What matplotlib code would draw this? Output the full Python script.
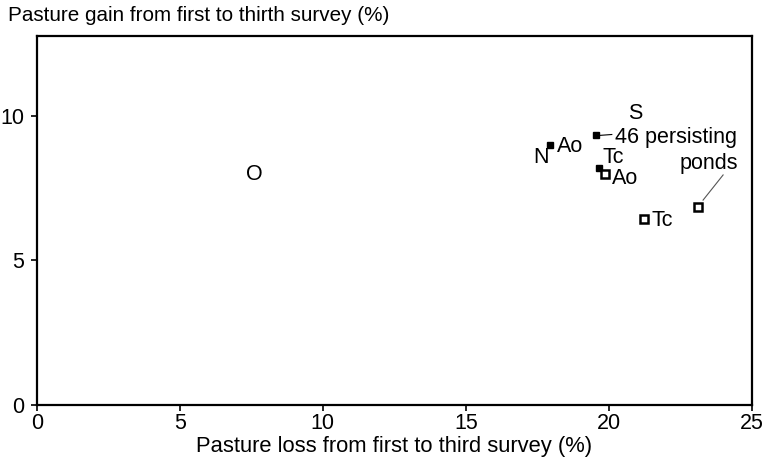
import matplotlib
matplotlib.use("Agg")
import matplotlib.pyplot as plt

plt.rcParams['font.family'] = ['Liberation Sans', 'DejaVu Sans']

# filled squares (first survey group)
filled_x = [17.95, 19.55, 19.65]
filled_y = [9.0, 9.33, 8.2]
# open squares
open_x = [19.86, 21.22, 23.11]
open_y = [7.99, 6.44, 6.85]

xticks = [0, 5, 10, 15, 20, 25]
yticks = [0, 5, 10]

fig = plt.figure(figsize=(7.65, 4.61), dpi=100)
ax = fig.add_axes([0.048, 0.1215, 0.935, 0.8005])

ax.plot(filled_x, filled_y, 's', color='black', markersize=4, linestyle='none')
ax.plot(open_x, open_y, 's', markerfacecolor='white', markeredgecolor='black',
        markeredgewidth=1.8, markersize=6, linestyle='none')

fs = 15.5
ax.text(18.18, 8.93, 'Ao', fontsize=fs, va='center', ha='left')
ax.text(17.62, 8.58, 'N', fontsize=fs, va='center', ha='center')
ax.text(19.76, 8.55, 'Tc', fontsize=fs, va='center', ha='left')
ax.text(20.1, 7.85, 'Ao', fontsize=fs, va='center', ha='left')
ax.text(21.5, 6.40, 'Tc', fontsize=fs, va='center', ha='left')
ax.text(20.91, 10.10, 'S', fontsize=fs, va='center', ha='center')
ax.text(20.21, 9.24, '46 persisting', fontsize=fs, va='center', ha='left')
ax.text(24.51, 8.37, 'ponds', fontsize=fs, va='center', ha='right')
ax.text(7.59, 7.99, 'O', fontsize=fs, va='center', ha='center')

# connector lines
ax.plot([19.69, 20.1], [9.33, 9.36], color='black', lw=0.8)
ax.plot([23.29, 23.99], [7.09, 7.96], color='#555555', lw=0.8)

ax.set_xlim(0, 25)
ax.set_ylim(0, 12.77)
ax.set_xticks(xticks)
ax.set_yticks(yticks)
ax.tick_params(direction='out', length=4, width=1.2, labelsize=fs)
ax.tick_params(axis='x', pad=2)
ax.tick_params(axis='y', pad=5)
for s in ax.spines.values():
    s.set_linewidth(1.6)

ax.set_xlabel('Pasture loss from first to third survey (%)', fontsize=15.8, labelpad=1)
fig.text(0.010, 0.967, 'Pasture gain from first to thirth survey (%)', fontsize=14.9,
         va='center', ha='left')

fig.savefig('out.png', dpi=100)
